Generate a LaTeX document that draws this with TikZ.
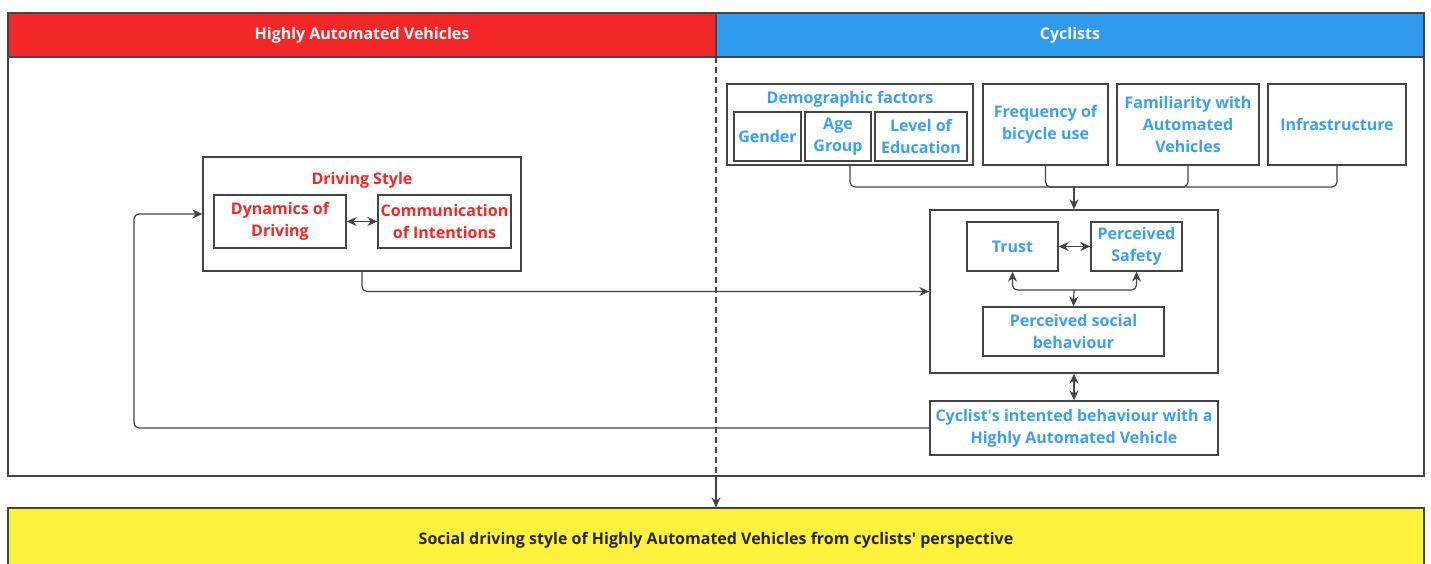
\documentclass[tikz,border=0pt]{standalone}
\usepackage{fontspec}
\setmainfont{Open Sans}
\usepackage{xcolor}
\usetikzlibrary{arrows.meta}

\definecolor{havred}{RGB}{242,40,40}
\definecolor{cycblue}{RGB}{46,155,239}
\definecolor{cyctext}{RGB}{59,160,238}
\definecolor{goalyellow}{RGB}{255,242,60}
\definecolor{edgegray}{RGB}{68,68,68}

\begin{document}
\begin{tikzpicture}[x=1pt,y=-1pt,>={Stealth[length=10pt,width=9pt]},font=\bfseries\fontsize{16}{22}\selectfont]
%style for header bars
\tikzstyle{header} = [rectangle, draw=edgegray, line width=1.2pt, text=white, minimum height=44pt, inner sep=0pt]

%style for the big frames
\tikzstyle{frame} = [rectangle, draw=edgegray, line width=1.2pt, inner sep=0pt]

%style for vehicle boxes
\tikzstyle{hbox} = [rectangle, draw=edgegray, line width=1.3pt, text=havred, align=center, inner sep=0pt]

%style for cyclist boxes
\tikzstyle{cbox} = [rectangle, draw=edgegray, line width=1.3pt, text=cyctext, align=center, inner sep=0pt]

%style for connectors
\tikzstyle{conn} = [draw=edgegray, line width=1.2pt, rounded corners=5pt]

\useasboundingbox (0,0) rectangle (1431,563);

%place header and frames
\node[header, fill=havred, minimum width=708pt] (havHead) at (362,35) {Highly Automated Vehicles};
\node[header, fill=cycblue, minimum width=708pt] (cycHead) at (1070,35) {Cyclists};
\node[frame, minimum width=1416pt, minimum height=419pt] (mainFrame) at (716,266.5) {};
\node[frame, fill=goalyellow, minimum width=1416pt, minimum height=64pt] (goal) at (716,540) {};
\node[text=black!85] (goalText) at (716,540) {Social driving style of Highly Automated Vehicles from cyclists\textquotesingle{} perspective};

%driving style
\node[hbox, minimum width=318pt, minimum height=114pt] (drivingStyle) at (362,214) {};
\node[text=havred] (dsTitle) at (362,180) {Driving Style};
\node[hbox, minimum width=132pt, minimum height=53pt] (dynamics) at (280,221.5) {Dynamics of\\Driving};
\node[hbox, minimum width=133pt, minimum height=53pt] (communication) at (444.5,221.5) {Communication\\of Intentions};

%cyclist factors
\node[cbox, minimum width=246pt, minimum height=81pt] (demographic) at (850,124.5) {};
\node[text=cyctext] (demoTitle) at (850,99) {Demographic factors};
\node[cbox, minimum width=67pt, minimum height=49pt] (gender) at (767.5,136.5) {Gender};
\node[cbox, minimum width=66pt, minimum height=49pt] (ageGroup) at (838,136.5) {Age\\Group};
\node[cbox, minimum width=92pt, minimum height=49pt] (education) at (921,136.5) {Level of\\Education};
\node[cbox, minimum width=125pt, minimum height=81pt] (frequency) at (1045.5,124.5) {Frequency of\\bicycle use};
\node[cbox, minimum width=142pt, minimum height=81pt] (familiarity) at (1188,124.5) {Familiarity with\\Automated\\Vehicles};
\node[cbox, minimum width=138pt, minimum height=81pt] (infrastructure) at (1337,124.5) {Infrastructure};

%perception group
\node[cbox, minimum width=288pt, minimum height=163pt] (perception) at (1074,291.5) {};
\node[cbox, minimum width=91pt, minimum height=49pt] (trust) at (1012.5,246.5) {Trust};
\node[cbox, minimum width=91pt, minimum height=49pt] (safety) at (1136.5,246.5) {Perceived\\Safety};
\node[cbox, minimum width=181pt, minimum height=49pt] (social) at (1073.5,331.5) {Perceived social\\behaviour};
\node[cbox, minimum width=288pt, minimum height=54pt] (intention) at (1074,428) {Cyclist\textquotesingle{}s intented behaviour with a\\Highly Automated Vehicle};

\coordinate (divTop) at (716,57);
\coordinate (divBottom) at (716,476);
\coordinate (factorJoin) at (1074,187);
\coordinate (socialJoin) at (1074,290);
\coordinate (loopCorner) at (134,214);

%connectors
\draw[conn, dashed, dash pattern=on 6pt off 4pt] (divTop) -- (divBottom);
\draw[conn, ->] (divBottom) -- (goal.north);

\draw[conn, <->] (dynamics) -- (communication);
\draw[conn, ->] (drivingStyle.south) |- (perception.west);
\draw[conn, ->] (intention.west) -| (loopCorner) -- (drivingStyle.west);

\draw[conn] (demographic.south) |- (factorJoin) -| (infrastructure.south);
\draw[conn] (frequency.south) |- (factorJoin);
\draw[conn] (familiarity.south) |- (factorJoin);
\draw[conn, ->] (factorJoin) -- (perception.north);

\draw[conn, <->] (trust) -- (safety);
\draw[conn, ->] (socialJoin) -| (trust.south);
\draw[conn, ->] (socialJoin) -| (safety.south);
\draw[conn, ->] (socialJoin) -- (social.north);

\draw[conn, <->] (perception) -- (intention);
\end{tikzpicture}
\end{document}
